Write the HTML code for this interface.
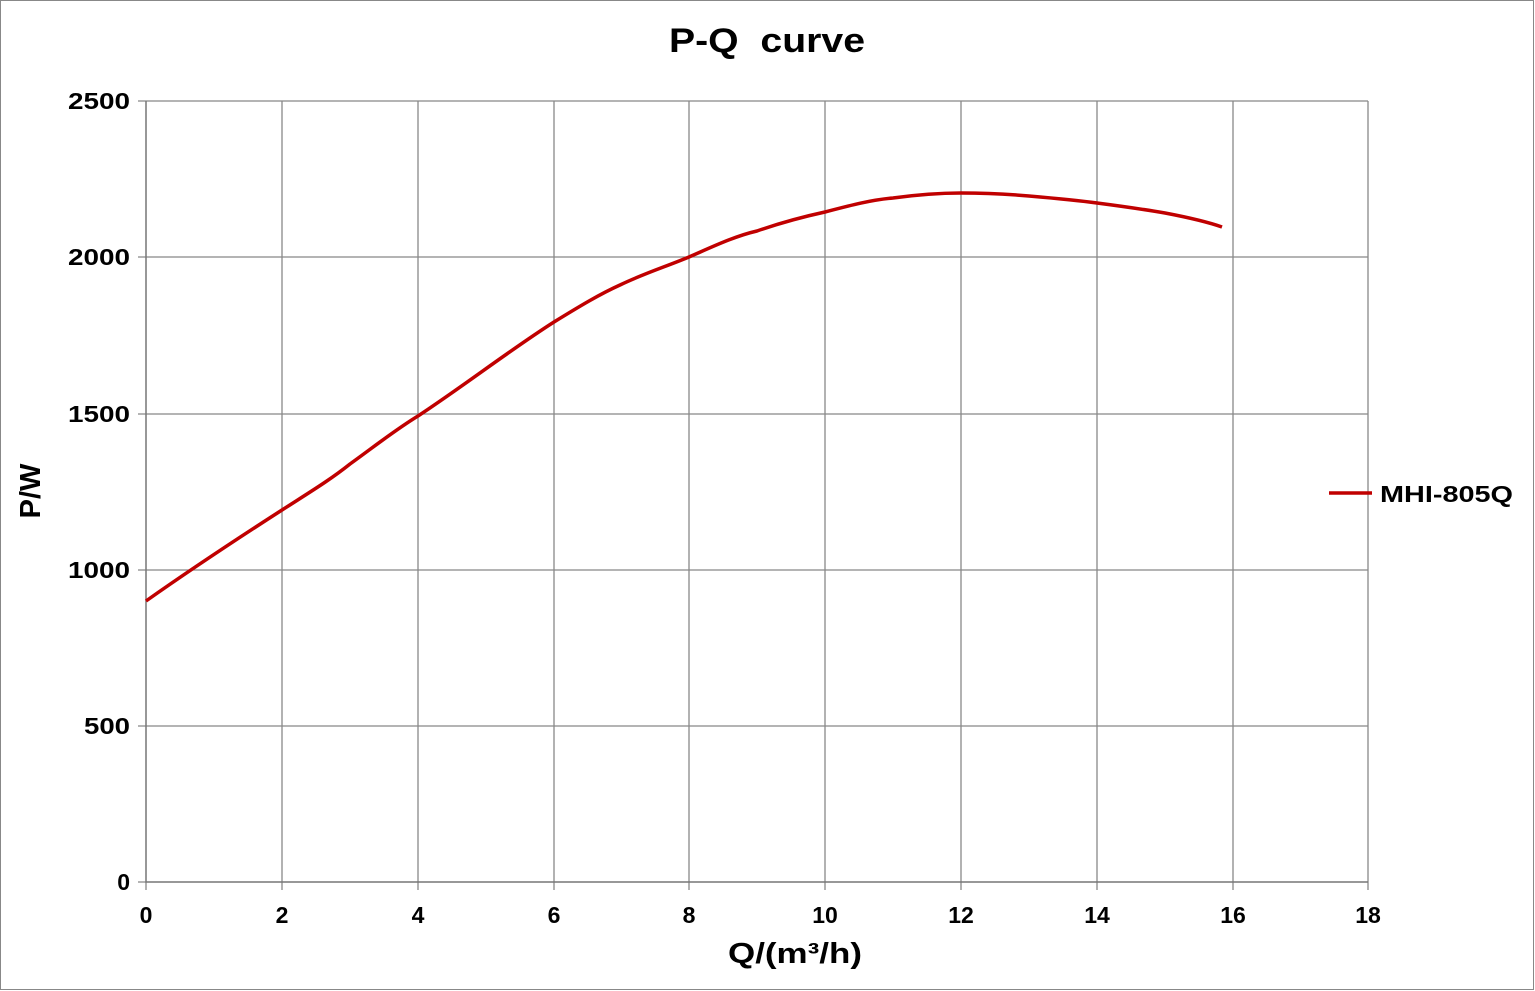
<!DOCTYPE html>
<html><head><meta charset="utf-8"><style>
html,body{margin:0;padding:0;background:#fff;}
svg{display:block;}
text{font-family:"Liberation Sans",sans-serif;font-weight:bold;fill:#000;white-space:pre;}
</style></head><body>
<svg width="1535" height="991" viewBox="0 0 1535 991" xmlns="http://www.w3.org/2000/svg">
<rect x="0.5" y="0.5" width="1533" height="989" fill="#fff" stroke="#888" stroke-width="1"/>
<text x="767" y="52" font-size="34" text-anchor="middle" xml:space="preserve" textLength="196" lengthAdjust="spacingAndGlyphs">P-Q  curve</text>
<g stroke="#888" stroke-width="1.3" fill="none">
<path d="M146 101H1368M146 257H1368M146 414H1368M146 570H1368M146 726H1368"/>
<path d="M282 101V882M418 101V882M554 101V882M689 101V882M825 101V882M961 101V882M1097 101V882M1233 101V882M1368 101V882"/>
<path d="M138 101H146M138 257H146M138 414H146M138 570H146M138 726H146M138 882H146"/>
<path d="M146 882V890M282 882V890M418 882V890M554 882V890M689 882V890M825 882V890M961 882V890M1097 882V890M1233 882V890M1368 882V890"/>
</g>
<path d="M146 101V882H1368" fill="none" stroke="#777" stroke-width="1.5"/>
<g font-size="23" text-anchor="end">
<text x="130" y="109" textLength="62" lengthAdjust="spacingAndGlyphs">2500</text><text x="130" y="265" textLength="62" lengthAdjust="spacingAndGlyphs">2000</text><text x="130" y="422" textLength="62" lengthAdjust="spacingAndGlyphs">1500</text>
<text x="130" y="578" textLength="62" lengthAdjust="spacingAndGlyphs">1000</text><text x="130" y="734" textLength="46" lengthAdjust="spacingAndGlyphs">500</text><text x="130" y="890">0</text>
</g>
<g font-size="23" text-anchor="middle">
<text x="146" y="923">0</text><text x="282" y="923">2</text><text x="418" y="923">4</text><text x="554" y="923">6</text>
<text x="689" y="923">8</text><text x="825" y="923">10</text><text x="961" y="923">12</text><text x="1097" y="923">14</text>
<text x="1233" y="923">16</text><text x="1368" y="923">18</text>
</g>
<text x="795" y="963" font-size="29" text-anchor="middle" textLength="134" lengthAdjust="spacingAndGlyphs">Q/(m³/h)</text>
<text transform="translate(40 491) rotate(-90)" font-size="29" text-anchor="middle">P/W</text>
<path d="M146 601 C190 570 240 537 282 510 C310 492 330 480 350 464 C375 446 395 430 418 416 C465 385 510 350 554 322 C580 306 600 294 620 285 C645 273 665 267 689 257 C712 247 735 236 757 231 C780 223 802 217 825 212 C848 206 870 200 893 198 C915 195 938 193 961 193 C985 193 1006 194 1029 196 C1052 198 1075 200 1097 203 C1120 206 1142 209 1165 213 C1186 217 1205 221 1222 227" fill="none" stroke="#c00000" stroke-width="3.5" stroke-linejoin="round"/>
<line x1="1329" y1="493" x2="1372" y2="493" stroke="#c00000" stroke-width="3.5"/>
<text x="1380" y="502" font-size="23" textLength="133" lengthAdjust="spacingAndGlyphs">MHI-805Q</text>
</svg>
</body></html>
